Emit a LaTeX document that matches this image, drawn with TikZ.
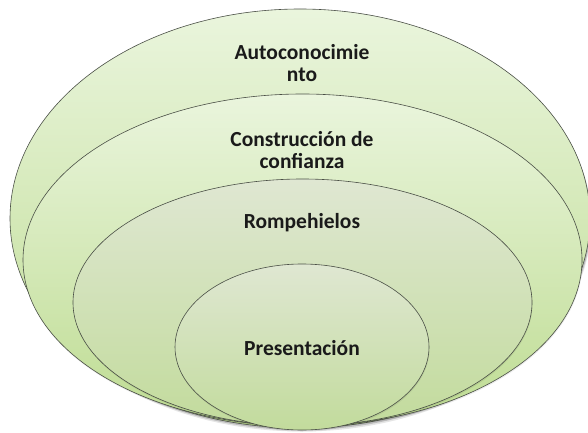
\documentclass[tikz,border=0pt]{standalone}
\usepackage{fontspec}
\setmainfont{Carlito}
\usepackage{xcolor}
\usepackage{tikz}
\usetikzlibrary{calc}
\definecolor{outtop}{HTML}{EAF5DD}
\definecolor{outbot}{HTML}{BEDC92}
\definecolor{intop}{HTML}{DFE7D2}
\definecolor{inbot}{HTML}{C2DB9C}
\definecolor{edge}{HTML}{4A4F46}
\definecolor{ink}{HTML}{1A1A1A}
\tikzset{
  ring/.style={draw=edge, line width=0.6pt},
  outring/.style={ring, top color=outtop, bottom color=outbot},
  inring/.style={ring, top color=intop, bottom color=inbot},
  drop/.style={fill=black, opacity=#1},
  lab/.style={text=ink, font=\fontsize{21.5}{22}\selectfont\bfseries, align=center},
}
\begin{document}
\begin{tikzpicture}[x=1pt, y=1pt]
  \useasboundingbox (0,0) rectangle (588,432);
  \coordinate (C1) at (300,213.5);
  \coordinate (C2) at (302.5,172);
  \coordinate (C3) at (302.5,129.5);
  \coordinate (C4) at (302,85);

  % soft shadow under the outer ring
  \fill[drop=0.10] ($(C1)+(1.5,-3.5)$) ellipse [x radius=290, y radius=209.5];
  \fill[drop=0.18] ($(C1)+(1,-2)$) ellipse [x radius=290, y radius=209.5];

  \shade[outring] (C1) ellipse [x radius=290, y radius=209.5];
  \fill[drop=0.08] ($(C2)+(0.5,-1.5)$) ellipse [x radius=279.5, y radius=166];
  \shade[outring] (C2) ellipse [x radius=279.5, y radius=166];
  \fill[drop=0.08] ($(C3)+(0.5,-1.5)$) ellipse [x radius=229.5, y radius=123.5];
  \shade[inring] (C3) ellipse [x radius=229.5, y radius=123.5];
  \fill[drop=0.08] ($(C4)+(0.5,-1.5)$) ellipse [x radius=127, y radius=83];
  \shade[inring] (C4) ellipse [x radius=127, y radius=83];

  \node[lab] (auto) at (302,368.5) {Autoconocimie\\nto};
  \node[lab] (conf) at (302,281.5) {Construcción de\\confianza};
  \node[lab] (romp) at (302,209) {Rompehielos};
  \node[lab] (pres) at (302,84) {Presentación};
\end{tikzpicture}
\end{document}
